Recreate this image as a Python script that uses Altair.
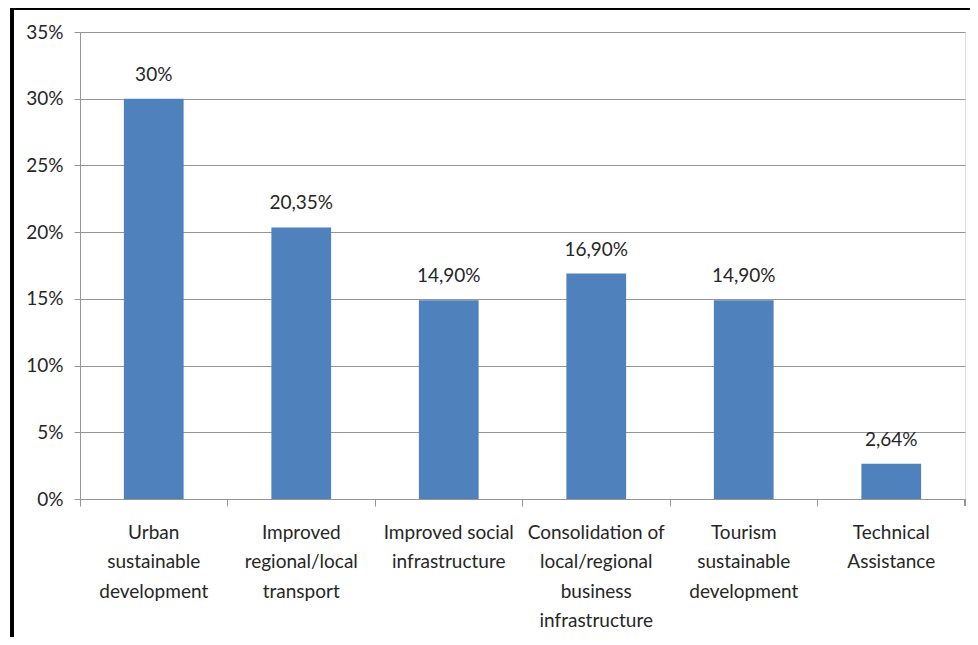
import altair as alt
import pandas as pd

categories = [
    "Urban|sustainable|development",
    "Improved|regional/local|transport",
    "Improved social|infrastructure",
    "Consolidation of|local/regional|business|infrastructure",
    "Tourism|sustainable|development",
    "Technical|Assistance",
]
values = [0.30, 0.2035, 0.149, 0.169, 0.149, 0.0264]
value_labels = ["30%", "20,35%", "14,90%", "16,90%", "14,90%", "2,64%"]
y_ticks = [0, 0.05, 0.10, 0.15, 0.20, 0.25, 0.30, 0.35]
y_tick_labels = ["0%", "5%", "10%", "15%", "20%", "25%", "30%", "35%"]

df = pd.DataFrame({"cat": categories, "val": values, "lab": value_labels})

W, H = 885, 467
FONT = "Lato"
TXT = "#262626"
GRID = "#959595"

label_map = "{" + ",".join(f"'{v}':'{l}'" for v, l in zip(y_ticks, y_tick_labels)) + "}"

x = alt.X(
    "cat:N",
    sort=categories,
    scale=alt.Scale(paddingInner=0, paddingOuter=0),
    axis=alt.Axis(
        title=None,
        labelAngle=0,
        labelExpr="split(datum.label, '|')",
        labelFont=FONT,
        labelFontSize=19,
        labelColor=TXT,
        labelLineHeight=29.5,
        labelBaseline="top",
        labelPadding=17,
        tickSize=7,
        tickColor=GRID,
        domainColor=GRID,
        bandPosition=0,
        labelBound=False,
        labelOverlap=False,
    ),
)
y = alt.Y(
    "val:Q",
    scale=alt.Scale(domain=[0, 0.35], nice=False),
    axis=alt.Axis(
        title=None,
        values=y_ticks,
        labelExpr=f"{label_map}[toString(datum.value)] || format(datum.value, '.0%')",
        labelFont=FONT,
        labelFontSize=19,
        labelColor=TXT,
        labelPadding=11,
        tickSize=6,
        tickColor=GRID,
        domainColor=GRID,
        gridColor=GRID,
        gridWidth=1,
    ),
)

base = alt.Chart(df)
bars = base.mark_bar(color="#4F81BD", width=alt.RelativeBandSize(0.405)).encode(x=x, y=y)
texts = base.mark_text(
    font=FONT, fontSize=19, color=TXT, baseline="alphabetic", dy=-18
).encode(x=alt.X("cat:N", sort=categories), y="val:Q", text="lab:N")

end_tick = alt.Chart(df).mark_rule(color=GRID).encode(
    x=alt.value(W), y=alt.value(H), y2=alt.value(H + 7)
)
frame_left = alt.Chart(df).mark_rule(color="black", strokeWidth=3).encode(
    x=alt.value(-68), y=alt.value(-25), y2=alt.value(H + 200)
)
frame_top = alt.Chart(df).mark_rule(color="black", strokeWidth=3).encode(
    y=alt.value(-24), x=alt.value(-69), x2=alt.value(W + 20)
)

chart = (
    alt.layer(bars, texts, end_tick, frame_left, frame_top)
    .properties(
        width=W,
        height=H,
        autosize=alt.AutoSizeParams(type="none"),
        padding={"left": 72, "top": 24, "right": 5, "bottom": 138},
    )
    .configure_view(stroke=None)
    .configure(background="white")
)

chart.save("out.html", embed_options={"renderer": "svg", "actions": False})
